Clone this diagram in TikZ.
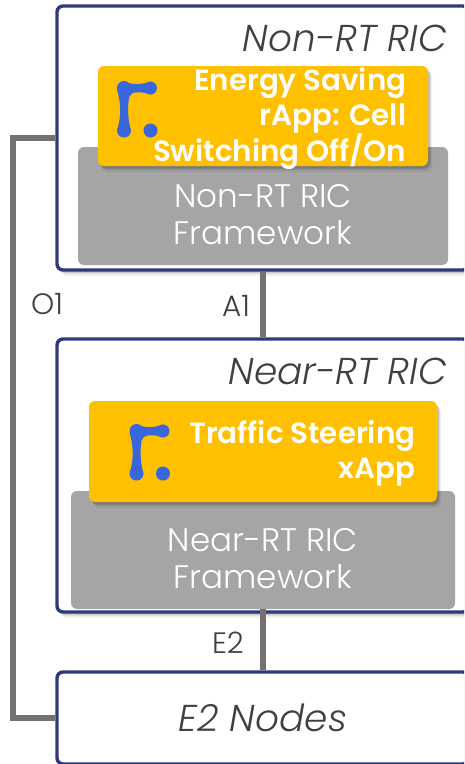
\documentclass[tikz,border=0pt]{standalone}
\usepackage{fontspec}
\setmainfont{Poppins}
\newfontfamily\poplight{Poppins Light}
\newfontfamily\popsemi{Poppins SemiBold}
\definecolor{navy}{HTML}{2F3A7C}
\definecolor{wire}{HTML}{767171}
\definecolor{framegray}{HTML}{A5A5A5}
\definecolor{appyellow}{HTML}{FFC000}
\definecolor{iconblue}{HTML}{3A66DB}
\definecolor{labeltext}{HTML}{404040}
\tikzset{
  softshadow/.style={
    preaction={fill=black,fill opacity=.05,draw=none,transform canvas={xshift=4pt,yshift=-6pt}},
    preaction={fill=black,fill opacity=.08,draw=none,transform canvas={xshift=3pt,yshift=-4pt}},
    preaction={fill=black,fill opacity=.14,draw=none,transform canvas={xshift=2pt,yshift=-2.5pt}}},
  ricbox/.style={draw=navy,line width=3.4pt,fill=white,rounded corners=6pt,minimum width=412pt,inner sep=0pt,softshadow},
  framebox/.style={fill=framegray,rounded corners=6pt,inner sep=0pt},
  appbox/.style={fill=appyellow,rounded corners=6pt,inner sep=0pt,softshadow},
  link/.style={draw=wire,line width=5.5pt},
  ricname/.style={text=labeltext,font=\poplight\itshape\fontsize{37.4}{42}\selectfont,inner sep=0pt},
  frametext/.style={text=white,font=\poplight\fontsize{32.6}{37}\selectfont,align=center,inner sep=0pt},
  apptext/.style={text=white,font=\popsemi\fontsize{29.3}{35}\selectfont,align=right,inner sep=0pt},
  linktext/.style={text=labeltext,font=\poplight\fontsize{29.5}{34}\selectfont,inner sep=0pt},
  pics/ricon/.style={code={
    \fill[iconblue] (0,0) circle[radius=7];
    \fill[iconblue] (26.5,0) circle[radius=6.5];
    \fill[iconblue] (0,42.5) circle[radius=7];
    \fill[iconblue] (26.5,42.5) circle[radius=7];
    \fill[iconblue] (0,-7) .. controls (7,-3) and (17,-3) .. (26.5,-6.5)
      -- (26.5,6.5) .. controls (17,3.2) and (7,3) .. (5.2,9)
      .. controls (3.6,18) and (3.6,28) .. (6,39) -- (-6,39)
      .. controls (-3,28) and (-3,15) .. (-6.9,2) -- cycle;
  }}
}
\begin{document}
\begin{tikzpicture}[x=1pt,y=-1pt]
\useasboundingbox (0,0) rectangle (464,764);
\clip (0,0) rectangle (464,764);
\fill[white] (0,0) rectangle (464,764);
% outer boxes
\node[ricbox,minimum height=264pt] (nonrt) at (263,138) {};
\node[ricbox,minimum height=273pt] (nearrt) at (263,475.5) {};
\node[ricbox,minimum height=92pt] (e2) at (263,718) {};
% links
\draw[link] (nonrt.south) -- (nearrt.north);
\coordinate (o1turn) at (13,138);
\coordinate (o1low) at (13,718);
\draw[link] (nonrt.west) -- (o1turn) -- (o1low) -- (e2.west);
% Non-RT contents
\node[ricname,anchor=east] (nonrtname) at (447.5,38) {Non-RT RIC};
\node[framebox,minimum width=370pt,minimum height=118pt] (fw1) at (263,206) {};
\node[frametext] (fw1text) at (263,214.5) {Non-RT RIC\\Framework};
\node[appbox,minimum width=330pt,minimum height=100pt] (app1) at (263,116) {};
\pic at (124,88) {ricon};
\node[apptext,anchor=east] (app1text) at (406.5,118.5) {Energy Saving\\rApp: Cell\\Switching Off/On};
% Near-RT contents
\node[ricname,anchor=east] (nearrtname) at (447.5,371) {Near-RT RIC};
\node[framebox,minimum width=384pt,minimum height=118pt] (fw2) at (263,550) {};
\node[frametext] (fw2text) at (263,558.5) {Near-RT RIC\\Framework};
\draw[link] (fw2.south) -- (e2.north);
\node[appbox,minimum width=348pt,minimum height=101pt] (app2) at (263,451.5) {};
\pic at (136.5,431) {ricon};
\node[apptext,anchor=east] (app2text) at (415.5,453.5) {Traffic Steering\\xApp};
% E2 nodes
\node[ricname,anchor=center] (e2name) at (263,718) {E2 Nodes};
% link labels
\node[linktext] (o1label) at (47,304) {O1};
\node[linktext] (a1label) at (236,306) {A1};
\node[linktext] (e2label) at (228,643) {E2};
\end{tikzpicture}
\end{document}
